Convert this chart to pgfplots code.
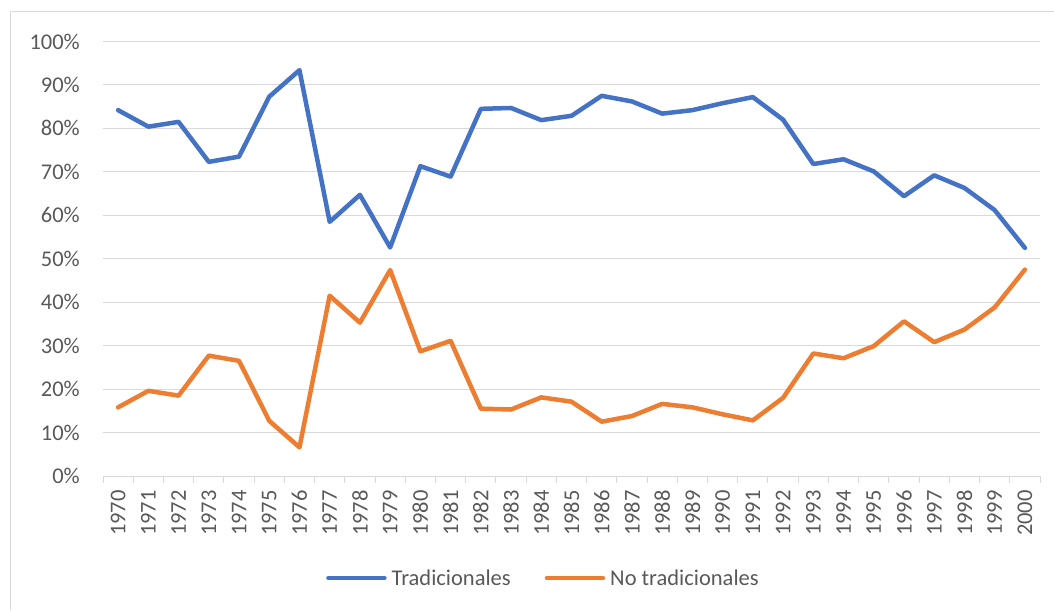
\documentclass[border=0pt]{standalone}
\usepackage{pgfplots}
\usepackage{pgfplotstable}
\pgfplotsset{compat=1.18}
\usepackage{fontspec}
\setmainfont{Carlito}
\definecolor{tblue}{HTML}{4472C4}
\definecolor{torange}{HTML}{ED7D31}
\definecolor{gridgray}{HTML}{D9D9D9}
\definecolor{labgray}{HTML}{595959}
\pgfplotstableread{
idx year trad notrad
0 1970 84.2 15.8
1 1971 80.4 19.6
2 1972 81.5 18.5
3 1973 72.3 27.7
4 1974 73.5 26.5
5 1975 87.3 12.7
6 1976 93.4 6.6
7 1977 58.5 41.5
8 1978 64.7 35.3
9 1979 52.6 47.4
10 1980 71.3 28.7
11 1981 68.9 31.1
12 1982 84.5 15.5
13 1983 84.7 15.3
14 1984 81.9 18.1
15 1985 82.9 17.1
16 1986 87.5 12.5
17 1987 86.2 13.8
18 1988 83.4 16.6
19 1989 84.2 15.8
20 1990 85.8 14.2
21 1991 87.2 12.8
22 1992 82.0 18.0
23 1993 71.8 28.2
24 1994 72.9 27.1
25 1995 70.1 29.9
26 1996 64.4 35.6
27 1997 69.2 30.8
28 1998 66.3 33.7
29 1999 61.2 38.8
30 2000 52.5 47.5
}\datatable
\begin{document}
\begin{tikzpicture}
\path[use as bounding box] (0pt,0pt) rectangle (1054pt,610pt);
\draw[gridgray, line width=1pt] (10pt,0pt) -- (10pt,598pt) -- (1054pt,598pt);
\begin{axis}[
  at={(103pt,134pt)}, anchor=south west,
  scale only axis, width=937pt, height=434.5pt,
  xmin=-0.5, xmax=30.5, ymin=0, ymax=100,
  axis x line*=bottom, axis y line*=left,
  x axis line style={draw=gridgray, line width=1pt, -},
  y axis line style={draw=none},
  xtick={0,...,30},
  xticklabels from table={\datatable}{year},
  minor xtick={-0.5,0.5,...,30.5},
  ytick={0,10,...,100},
  yticklabel={\pgfmathprintnumber{\tick}\%},
  /pgf/number format/assume math mode=true,
  major tick length=0pt, minor tick length=7pt,
  tick align=outside,
  minor x tick style={draw=gridgray, line width=1pt},
  ytick style={draw=none},
  ymajorgrids, grid style={draw=gridgray, line width=1pt},
  every tick label/.append style={font=\fontsize{22.5}{27}\selectfont, text=labgray},
  xticklabel style={rotate=90, anchor=east, inner sep=0pt, xshift=-14pt},
  yticklabel style={anchor=east, inner sep=0pt, xshift=-23pt},
  legend columns=2,
  legend style={at={(0.469,-0.2348)}, anchor=center, draw=none, fill=none,
    inner sep=0pt, font=\fontsize{22.5}{27}\selectfont, text=labgray,
    nodes={inner sep=0pt, text=labgray},
    /tikz/every even column/.append style={column sep=34pt}},
  legend cell align=left,
  legend image code/.code={\draw[#1, line cap=round] (0pt,0pt) -- (56pt,0pt);},
  clip=false,
]
\addplot[tblue, line width=4.5pt, line join=round, line cap=round] table[x=idx, y=trad] {\datatable};
\addlegendentry{\hspace{5pt}Tradicionales}
\addplot[torange, line width=4.5pt, line join=round, line cap=round] table[x=idx, y=notrad] {\datatable};
\addlegendentry{\hspace{5pt}No tradicionales}
\end{axis}
\end{tikzpicture}
\end{document}
